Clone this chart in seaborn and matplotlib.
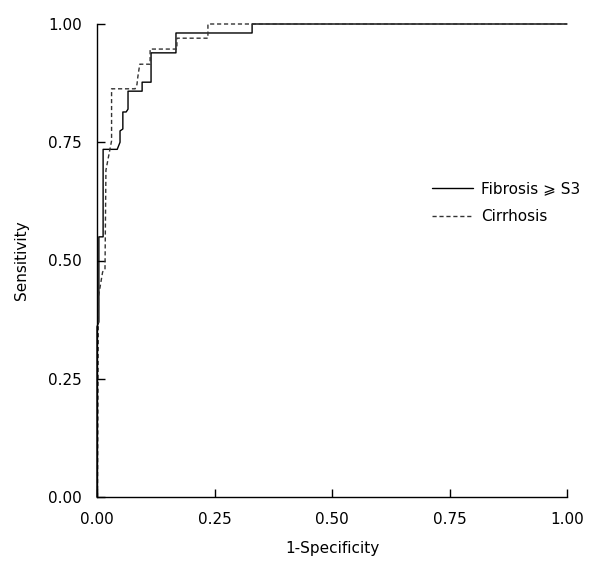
import matplotlib
matplotlib.use('Agg')
import matplotlib.pyplot as plt
from matplotlib.lines import Line2D
import seaborn as sns
import pandas as pd

# ROC curve points
fib_fpr = [0.0, 0.0, 0.004, 0.004, 0.013, 0.013, 0.043, 0.049, 0.049, 0.055, 0.055,
           0.062, 0.066, 0.066, 0.096, 0.096, 0.115, 0.115, 0.168, 0.168, 0.33, 0.33, 1.0]
fib_tpr = [0.0, 0.36, 0.37, 0.55, 0.55, 0.735, 0.735, 0.75, 0.774, 0.778, 0.814,
           0.814, 0.82, 0.858, 0.858, 0.877, 0.877, 0.939, 0.939, 0.981, 0.981, 1.0, 1.0]

cir_fpr = [0.001, 0.003, 0.012, 0.017, 0.019, 0.031, 0.031, 0.081, 0.085, 0.087,
           0.091, 0.113, 0.113, 0.17, 0.17, 0.236, 0.236, 1.0]
cir_tpr = [0.0, 0.423, 0.476, 0.48, 0.691, 0.753, 0.863, 0.863, 0.872, 0.889,
           0.915, 0.915, 0.947, 0.947, 0.970, 0.970, 1.0, 1.0]

labels = ['Fibrosis \u2a7e S3', 'Cirrhosis']

sns.set_theme(style='white')
plt.rcParams['font.family'] = ['DejaVu Sans', 'Noto Sans CJK SC']
plt.rcParams['text.color'] = 'black'
plt.rcParams['axes.labelcolor'] = 'black'

df = pd.concat([
    pd.DataFrame({'fpr': fib_fpr, 'tpr': fib_tpr, 'group': labels[0]}),
    pd.DataFrame({'fpr': cir_fpr, 'tpr': cir_tpr, 'group': labels[1]}),
])

fig = plt.figure(figsize=(5.89, 5.61), dpi=100)
ax = fig.add_axes([97 / 589, 1 - 497 / 561, 470 / 589, 473 / 561])

sns.lineplot(data=df, x='fpr', y='tpr', hue='group', style='group',
             palette=['black', '#333333'], dashes=[(None, None), (3, 2)],
             sort=False, estimator=None, linewidth=1.0, ax=ax, legend=False)
for ln in ax.lines:
    ln.set_clip_on(False)
ax.lines[0].set_linestyle('-')

ax.set_xlim(0, 1)
ax.set_ylim(0, 1)
ticks = [0, 0.25, 0.5, 0.75, 1.0]
ax.set_xticks(ticks)
ax.set_yticks(ticks)
ax.set_xticklabels([f'{t:.2f}' for t in ticks])
ax.set_yticklabels([f'{t:.2f}' for t in ticks])
ax.tick_params(direction='in', length=6, width=1, colors='black', labelsize=11,
               bottom=True, left=True)
ax.tick_params(axis='y', pad=11)
ax.tick_params(axis='x', pad=11)
sns.despine(ax=ax)
for s in ['left', 'bottom']:
    ax.spines[s].set_color('black')
    ax.spines[s].set_linewidth(1.0)

ax.set_xlabel('1-Specificity', fontsize=11, labelpad=10)
ax.set_ylabel('Sensitivity', fontsize=11, labelpad=14)

handles = [Line2D([], [], color='black', lw=1.0),
           Line2D([], [], color='#333333', lw=1.0, linestyle=(0, (3, 2)))]
ax.legend(handles, labels, loc='upper left', bbox_to_anchor=(0.713, 0.668),
          frameon=False, fontsize=11, handlelength=2.7, handletextpad=0.5,
          borderpad=0, borderaxespad=0, labelspacing=0.85)

fig.savefig('out.png', dpi=100)
